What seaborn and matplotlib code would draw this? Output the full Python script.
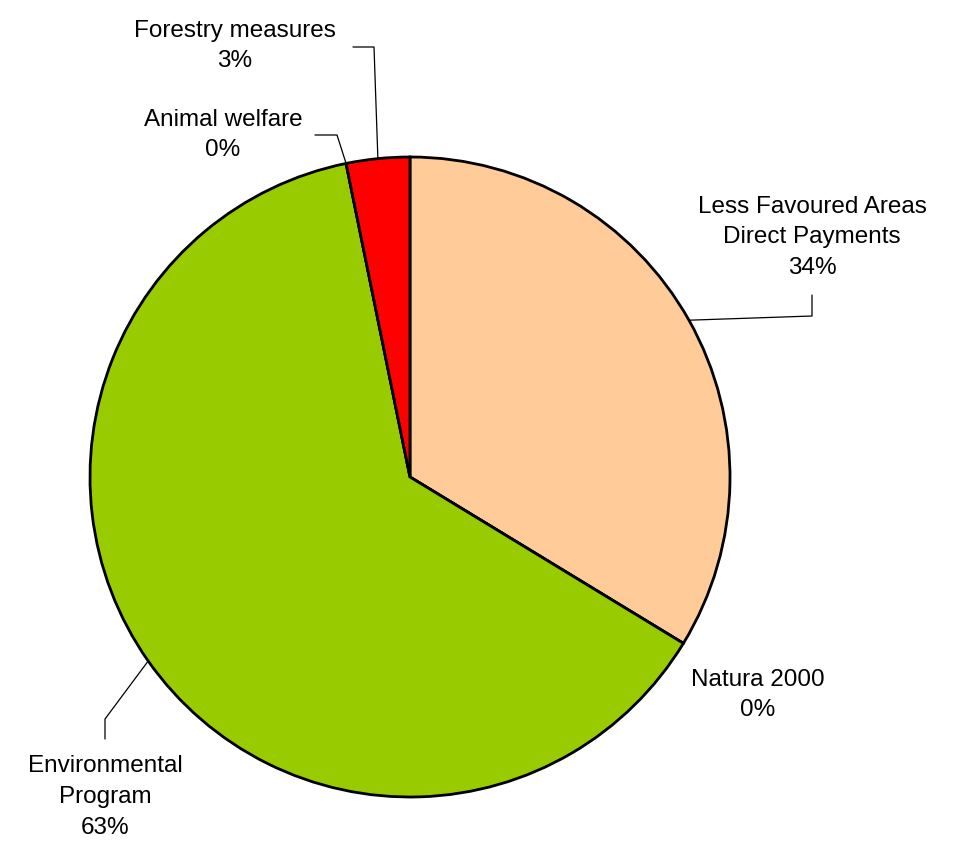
"""Pie chart of rural development spending by measure."""
import numpy as np
import matplotlib
matplotlib.use("Agg")
import matplotlib.pyplot as plt
import seaborn as sns

sns.set_theme(style="white")
plt.rcParams["font.family"] = ["Liberation Sans", "DejaVu Sans"]

# --- Data (clockwise from 12 o'clock) ---
labels = ["Less Favoured Areas\nDirect Payments", "Natura 2000", "Environmental\nProgram",
          "Animal welfare", "Forestry measures"]
shares = [33.7, 0.0, 63.1, 0.0, 3.2]
pct_text = ["34%", "0%", "63%", "0%", "3%"]
colors = ["#FFCC99", "#3366CC", "#99CC00", "#996633", "#FF0000"]

# label layout in pixel coords (x, y from top): text centre, elbow, leader end
text_pos = [(812, 237), (758, 695), (105, 797), (223, 135), (235, 46)]
leaders = [
    [(812, 316), (812, 295)],
    None,
    [(105, 719), (105, 739)],
    [(337, 135), (315, 135)],
    [(374, 47), (353, 47)],
]

W, H = 959, 850
CX, CY, R = 410, 477, 320

fig = plt.figure(figsize=(W / 100, H / 100), dpi=100)
ax = fig.add_axes([0, 0, 1, 1])

wedges, _ = ax.pie(shares, colors=colors, startangle=90, counterclock=False,
                   center=(CX, H - CY), radius=R,
                   wedgeprops={"edgecolor": "black", "linewidth": 2})
ax.set_xlim(0, W)
ax.set_ylim(0, H)
ax.set_aspect("auto")
ax.axis("off")

for w, lab, pct, (tx, ty), lead in zip(wedges, labels, pct_text, text_pos, leaders):
    ax.text(tx, H - ty, f"{lab}\n{pct}", ha="center", va="center",
            fontsize=17.5, linespacing=1.5, color="black")
    if lead is None:
        continue
    mid = np.deg2rad((w.theta1 + w.theta2) / 2)
    sx, sy = CX + R * np.cos(mid), (H - CY) + R * np.sin(mid)
    xs = [sx] + [p[0] for p in lead]
    ys = [sy] + [H - p[1] for p in lead]
    ax.plot(xs, ys, color="black", linewidth=0.9)

plt.savefig("out.png", dpi=100, facecolor="white")
plt.close()
